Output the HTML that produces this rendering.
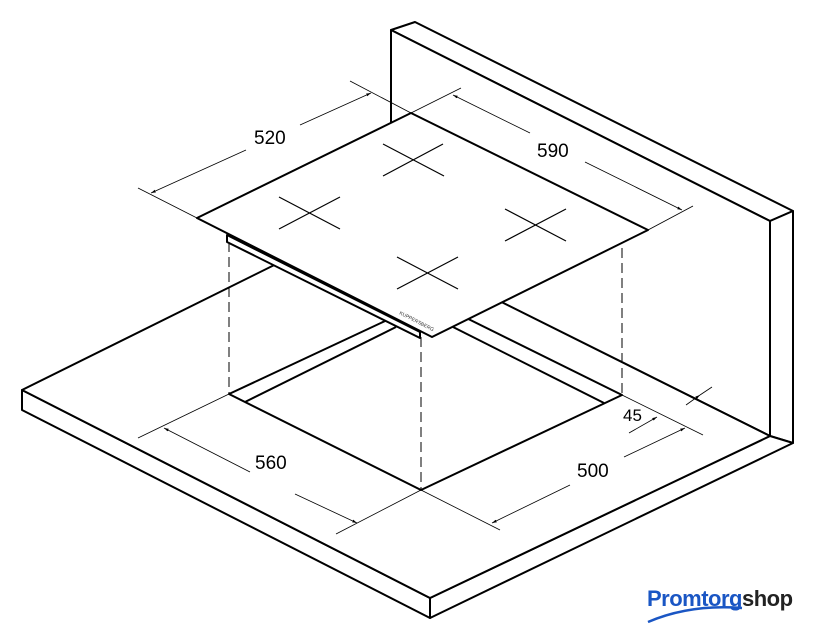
<!DOCTYPE html>
<html><head><meta charset="utf-8"><style>
html,body{margin:0;padding:0;background:#fff;}
svg{display:block;}
text{font-family:"Liberation Sans",sans-serif;}
</style></head><body>
<svg width="813" height="640" viewBox="0 0 813 640" xmlns="http://www.w3.org/2000/svg">
<defs>
<marker id="a" viewBox="0 0 10 10" refX="10" refY="5" markerWidth="6" markerHeight="6" orient="auto-start-reverse"><path d="M0,2 L10,5 L0,8 z" fill="#000"/></marker>
</defs>
<g fill="none" stroke="#000" stroke-width="2" stroke-linejoin="round">
<!-- backsplash -->
<polygon points="391,30 415,22 793,211 770,221" fill="#fff"/>
<polygon points="770,221 793,211 793,443 770,436" fill="#fff"/>
<polygon points="391,30 770,221 770,436 391,247" fill="#fff"/>
<!-- countertop -->
<polygon points="22,390 430,598 430,618 22,410" fill="#fff"/>
<polygon points="430,598 770,436 793,443 430,618" fill="#fff"/>
<polygon points="22,390 351,227 770,436 430,598" fill="#fff"/>
<!-- cutout -->
<polygon points="229,394 421,490 622,395 430,300" fill="#fff"/>
<polyline points="245,402 396,327"/>
<polyline points="604,403 453,327"/>
</g>
<g stroke="#000" stroke-width="1" stroke-dasharray="10,5" fill="none">
<line x1="229" y1="242" x2="229" y2="394"/>
<line x1="622" y1="248" x2="622" y2="395"/>
<line x1="421" y1="337" x2="421" y2="490"/>
</g>
<!-- hob -->
<g fill="#fff" stroke="#000" stroke-width="2" stroke-linejoin="round">
<polygon points="227,235 420,332 420,338 227,242"/>
<polygon points="197,218 411,113 648,230 432,337"/>
</g>
<g stroke="#000" stroke-width="1.2">
<line x1="383" y1="144" x2="444" y2="176"/><line x1="383" y1="176" x2="443" y2="144"/>
<line x1="279" y1="197" x2="340" y2="229"/><line x1="279" y1="229" x2="340" y2="197"/>
<line x1="505" y1="209" x2="566" y2="241"/><line x1="505" y1="241" x2="566" y2="209"/>
<line x1="397" y1="257" x2="458" y2="289"/><line x1="397" y1="289" x2="458" y2="257"/>
</g>
<text x="0" y="0" font-size="5" transform="translate(399,314) rotate(27)" fill="#333">KUPPERSBERG</text>
<!-- dimensions -->
<g stroke="#000" stroke-width="0.8" fill="none">
<line x1="138" y1="188" x2="197" y2="218"/>
<line x1="350" y1="81" x2="411" y2="113"/>
<line x1="151" y1="193" x2="246" y2="150" marker-start="url(#a)"/>
<line x1="300" y1="125" x2="371" y2="93" marker-end="url(#a)"/>
<line x1="411" y1="113" x2="461" y2="88"/>
<line x1="648" y1="230" x2="693" y2="206"/>
<line x1="453" y1="95" x2="530" y2="133" marker-start="url(#a)"/>
<line x1="585" y1="162" x2="682" y2="210" marker-end="url(#a)"/>
<line x1="229" y1="394" x2="138" y2="438"/>
<line x1="421" y1="490" x2="336" y2="534"/>
<line x1="164" y1="428" x2="250" y2="472" marker-start="url(#a)"/>
<line x1="295" y1="494" x2="357" y2="523" marker-end="url(#a)"/>
<line x1="421" y1="490" x2="500" y2="530"/>
<line x1="622" y1="395" x2="703" y2="435"/>
<line x1="492" y1="523" x2="570" y2="485" marker-start="url(#a)"/>
<line x1="624" y1="457" x2="685" y2="428" marker-end="url(#a)"/>
<line x1="629" y1="433" x2="657" y2="417" marker-end="url(#a)"/>
<line x1="712" y1="387" x2="700" y2="395"/>
<line x1="686" y1="405" x2="700" y2="395" marker-end="url(#a)"/>
</g>
<g font-size="19" fill="#000">
<text x="254" y="144">520</text>
<text x="537" y="157">590</text>
<text x="255" y="469">560</text>
<text x="577" y="477">500</text>
<text x="623" y="421" font-size="17">45</text>
</g>
<!-- logo -->
<text x="647" y="606" font-size="22" font-weight="bold" fill="#1a56c4" letter-spacing="-0.5">Promtorg<tspan fill="#222">shop</tspan></text>
<path d="M648,622 Q690,604 742,608" stroke="#1a56c4" stroke-width="2.5" fill="none"/>
</svg>
</body></html>
